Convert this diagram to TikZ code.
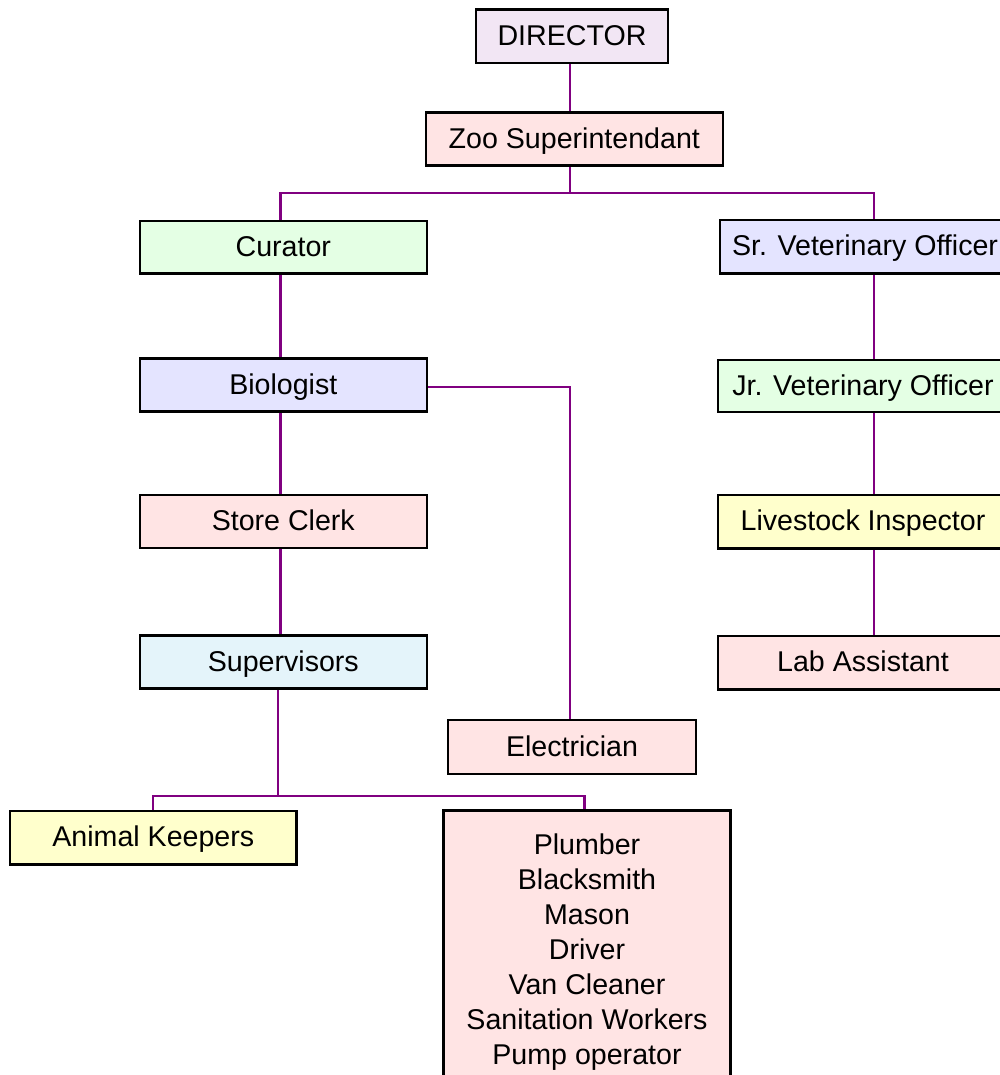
\documentclass[tikz,border=0pt]{standalone}
\usepackage{fontspec}
\setmainfont{Liberation Sans}
\usetikzlibrary{backgrounds}
\definecolor{connc}{HTML}{800080}
\definecolor{fpurple}{HTML}{F2E6F4}
\definecolor{fpink}{HTML}{FFE4E4}
\definecolor{fgreen}{HTML}{E4FFE4}
\definecolor{flav}{HTML}{E4E4FF}
\definecolor{fyellow}{HTML}{FFFFCC}
\definecolor{fblue}{HTML}{E4F4FA}
\tikzset{
  box/.style={draw=black, line width=2.5pt, inner sep=0pt, text height=20.5pt, text depth=2pt,
    font=\fontsize{28.6}{35}\selectfont, align=center},
  conn/.style={draw=connc, line width=2.4pt},
}
\begin{document}
\begin{tikzpicture}[x=1pt,y=-1pt]
\useasboundingbox (0,0) rectangle (999,1075);
\node[box, fill=fpurple, minimum width=192pt, minimum height=53.5pt] (director) at (572,36.3) {DIRECTOR};
\node[box, fill=fpink, minimum width=297pt, minimum height=53pt] (zoo) at (574.3,139.2) {Zoo Superintendant};
\node[box, fill=fgreen, minimum width=287pt, minimum height=52.3pt] (curator) at (283.3,247.2) {Curator};
\node[box, fill=flav, minimum width=290pt, minimum height=53.3pt] (srvet) at (865,246.7) {Sr. Veterinary Officer};
\node[box, fill=flav, minimum width=287pt, minimum height=53.4pt] (biologist) at (283.3,385) {Biologist};
\node[box, fill=fgreen, minimum width=290pt, minimum height=52pt] (jrvet) at (863,386) {Jr. Veterinary Officer};
\node[box, fill=fpink, minimum width=287pt, minimum height=53.3pt] (storeclerk) at (283.3,521.5) {Store Clerk};
\node[box, fill=fyellow, minimum width=290pt, minimum height=53.3pt] (livestock) at (863,521.7) {Livestock Inspector};
\node[box, fill=fblue, minimum width=287pt, minimum height=53.3pt] (supervisors) at (283.3,662) {Supervisors};
\node[box, fill=fpink, minimum width=290pt, minimum height=53.3pt] (lab) at (863,662.7) {Lab Assistant};
\node[box, fill=fpink, minimum width=248pt, minimum height=54pt] (electrician) at (572,747) {Electrician};
\node[box, fill=fyellow, minimum width=286.7pt, minimum height=53.3pt] (keepers) at (153.3,837.7) {Animal Keepers};
\node[box, fill=fpink, minimum width=287.4pt, minimum height=284pt, anchor=north, text height=, text depth=] (bigbox) at (587,809)
  {Plumber\\Blacksmith\\Mason\\Driver\\Van Cleaner\\Sanitation Workers\\Pump operator};
\coordinate (zx) at (570,193);
\coordinate (lx) at (280.3,193);
\coordinate (rx) at (874,193);
\coordinate (sx) at (277.7,796);
\coordinate (kx) at (152.7,796);
\coordinate (px) at (584.3,796);
\coordinate (ex) at (570,386.7);
\begin{pgfonlayer}{background}
\fill[white] (0,0) rectangle (999,1075);
\draw[conn] (director.south -| zx) -- (zoo.north -| zx);
\draw[conn] (zoo.south -| zx) -- (zx);
\draw[conn] (curator.north -| lx) -- (lx) -- (rx) -- (srvet.north -| rx);
\draw[conn] (curator.south -| lx) -- (biologist.north -| lx);
\draw[conn] (biologist.south -| lx) -- (storeclerk.north -| lx);
\draw[conn] (storeclerk.south -| lx) -- (supervisors.north -| lx);
\draw[conn] (supervisors.south -| sx) -- (sx);
\draw[conn] (keepers.north -| kx) -- (kx) -- (px) -- (bigbox.north -| px);
\draw[conn] (biologist.east |- ex) -- (ex) -- (electrician.north -| ex);
\draw[conn] (srvet.south -| rx) -- (jrvet.north -| rx);
\draw[conn] (jrvet.south -| rx) -- (livestock.north -| rx);
\draw[conn] (livestock.south -| rx) -- (lab.north -| rx);
\end{pgfonlayer}
\end{tikzpicture}
\end{document}
